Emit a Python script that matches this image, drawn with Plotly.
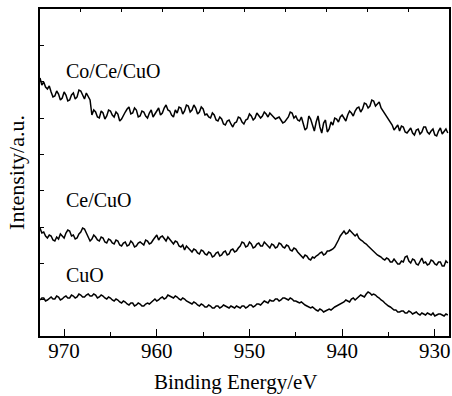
import numpy as np
import plotly.graph_objects as go

# Binding energy grid (eV), 0.2 eV steps from high to low
energy = np.round(np.arange(972.6, 928.5, -0.2), 1)

# Intensities (a.u.)
co_ce_cuo = [258, 251, 254, 249, 247, 250, 244, 239, 240, 245, 242, 236, 238, 244, 241, 235,
             236, 241, 243, 237, 239, 246, 245, 240, 237, 243, 240, 236, 221, 226, 224, 219,
             218, 225, 223, 217, 220, 226, 225, 221, 219, 224, 222, 215, 217, 221, 224, 227,
             229, 222, 223, 228, 226, 219, 220, 225, 224, 220, 218, 223, 226, 219, 222, 226,
             228, 221, 223, 228, 231, 226, 225, 221, 219, 226, 223, 229, 228, 222, 225, 231,
             230, 224, 226, 231, 228, 222, 224, 229, 227, 221, 222, 219, 218, 223, 221, 216,
             215, 219, 217, 212, 211, 215, 216, 212, 209, 213, 214, 219, 218, 214, 212, 216,
             217, 222, 220, 216, 218, 223, 221, 218, 220, 224, 222, 219, 223, 221, 220, 217,
             218, 219, 216, 213, 214, 217, 219, 224, 223, 218, 220, 216, 215, 219, 212, 206,
             208, 220, 217, 210, 205, 214, 220, 209, 203, 213, 216, 204, 207, 214, 211, 218,
             217, 214, 219, 221, 218, 215, 221, 225, 223, 220, 225, 228, 229, 224, 227, 233,
             232, 228, 230, 236, 235, 230, 232, 234, 228, 225, 222, 219, 216, 213, 211, 206,
             208, 211, 205, 210, 209, 204, 203, 206, 208, 203, 201, 206, 207, 202, 204, 209,
             209, 204, 202, 205, 207, 201, 200, 205, 208, 202, 204, 207, 203]

ce_cuo = [108, 103, 104, 100, 98, 101, 100, 96, 95, 99, 97, 102, 100, 98, 103, 106,
          105, 100, 101, 97, 98, 102, 104, 108, 107, 103, 100, 95, 97, 101, 99, 96,
          95, 99, 98, 94, 93, 97, 96, 93, 92, 96, 95, 91, 90, 93, 94, 90, 91, 95,
          93, 89, 90, 93, 94, 92, 91, 96, 95, 92, 93, 96, 98, 101, 96, 99, 100, 97,
          95, 99, 97, 94, 92, 95, 94, 90, 89, 91, 86, 90, 88, 85, 84, 87, 86, 83,
          82, 86, 85, 82, 81, 84, 83, 79, 80, 83, 84, 80, 81, 84, 85, 81, 82, 86,
          87, 84, 85, 88, 90, 94, 93, 89, 90, 94, 92, 88, 89, 92, 93, 90, 90, 94,
          92, 89, 88, 92, 91, 88, 89, 93, 92, 89, 88, 91, 90, 86, 85, 88, 87, 84,
          82, 80, 78, 81, 80, 77, 76, 79, 78, 80, 81, 83, 84, 81, 82, 85, 85, 86,
          87, 89, 92, 96, 100, 103, 105, 102, 103, 106, 104, 101, 100, 102, 98, 96,
          95, 93, 92, 90, 88, 87, 85, 83, 81, 80, 79, 77, 76, 78, 77, 74, 74, 77,
          75, 72, 72, 75, 74, 79, 80, 75, 73, 77, 76, 72, 71, 75, 78, 73, 74, 71,
          72, 76, 75, 72, 71, 74, 74, 70, 70, 75, 73]

cuo = [36, 38, 38, 35, 36, 38, 39, 37, 37, 40, 39, 36, 37, 39, 40, 38,
       38, 41, 40, 38, 39, 42, 41, 39, 39, 41, 42, 40, 40, 42, 41, 38,
       39, 41, 40, 38, 37, 39, 38, 36, 35, 37, 36, 34, 33, 35, 34, 32,
       31, 33, 33, 30, 31, 33, 32, 30, 30, 32, 33, 32, 34, 36, 37, 35,
       36, 38, 39, 37, 38, 41, 40, 39, 38, 40, 39, 37, 36, 38, 37, 35,
       34, 33, 32, 34, 33, 31, 30, 32, 31, 29, 29, 31, 30, 28, 28, 30,
       30, 28, 29, 31, 30, 29, 28, 30, 29, 28, 30, 29, 28, 30, 30, 28,
       29, 31, 31, 29, 30, 32, 32, 31, 33, 35, 34, 33, 36, 35, 35, 37,
       37, 35, 36, 38, 38, 37, 36, 38, 37, 35, 35, 34, 33, 34, 32, 31,
       30, 29, 28, 29, 27, 26, 25, 27, 26, 24, 25, 26, 27, 26, 28, 29,
       30, 31, 32, 33, 34, 36, 35, 34, 37, 38, 36, 38, 39, 41, 40, 39,
       42, 44, 43, 41, 42, 41, 39, 38, 36, 35, 33, 31, 30, 29, 27, 26,
       26, 24, 24, 25, 25, 23, 23, 25, 24, 22, 23, 24, 22, 21, 23, 22,
       21, 23, 22, 21, 23, 20, 21, 22, 22, 21, 20, 22, 21]

series = [("Co/Ce/CuO", co_ce_cuo, 265), ("Ce/CuO", ce_cuo, 136), ("CuO", cuo, 61)]

SERIF = "Liberation Serif"

fig = go.Figure()
for name, vals, _ in series:
    fig.add_trace(go.Scatter(x=energy[:len(vals)], y=vals, mode="lines", name=name,
                             line=dict(color="black", width=1.5), showlegend=False))

# empty trace so the top axis is drawn
fig.add_trace(go.Scatter(x=[], y=[], xaxis="x2", showlegend=False))

for name, _, ypos in series:
    fig.add_annotation(x=970.0, y=ypos, text=name, showarrow=False, xanchor="left",
                       yanchor="middle", font=dict(family=SERIF, size=20, color="black"))

# x-axis title
fig.add_annotation(x=0.478, y=-0.14, xref="paper", yref="paper", text="Binding Energy/eV",
                   showarrow=False, xanchor="center", yanchor="middle", borderpad=0,
                   font=dict(family=SERIF, size=21, color="black"))

fig.update_layout(
    width=452, height=396,
    margin=dict(l=40, r=1, t=9, b=60),
    plot_bgcolor="white", paper_bgcolor="white",
    font=dict(family=SERIF, size=21, color="black"),
    xaxis=dict(range=[972.6, 928.47], tickvals=[970, 960, 950, 940, 930],
               ticks="inside", ticklen=7, tickwidth=1.3, tickcolor="black",
               minor=dict(tickvals=[965, 955, 945, 935], ticks="inside", ticklen=4,
                          tickwidth=1.2, tickcolor="black"),
               showline=True, linecolor="black", linewidth=1.6, mirror=True,
               showgrid=False, zeroline=False, ticklabelstandoff=-5,
               tickfont=dict(family=SERIF, size=21)),
    xaxis2=dict(range=[0, 10], overlaying="x", side="top", tickvals=list(range(1, 10)),
                ticks="inside", ticklen=3, tickwidth=1, tickcolor="black",
                showticklabels=False, showgrid=False, zeroline=False, showline=False),
    yaxis=dict(range=[0, 327], tickvals=[k * 327 / 9 for k in range(1, 9)],
               ticks="inside", ticklen=4, tickwidth=1, tickcolor="black",
               showticklabels=False, showline=True, linecolor="black", linewidth=1.6,
               mirror=True, showgrid=False, zeroline=False,
               title=dict(text="Intensity/a.u.", standoff=8,
                          font=dict(family=SERIF, size=22))),
)

fig.write_html("out.html")
